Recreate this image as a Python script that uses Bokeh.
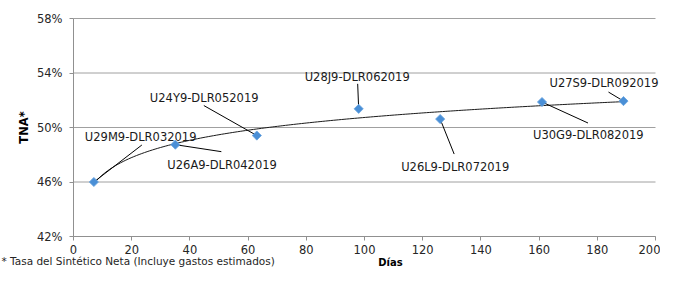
import numpy as np
from bokeh.plotting import figure
from bokeh.models import (ColumnDataSource, FixedTicker, PrintfTickFormatter,
                          Range1d, Label)
from bokeh.core.properties import value
from bokeh.embed import file_html
from bokeh.resources import INLINE

# ---- data ----
names = ["U29M9-DLR032019", "U26A9-DLR042019", "U24Y9-DLR052019",
         "U28J9-DLR062019", "U26L9-DLR072019", "U30G9-DLR082019",
         "U27S9-DLR092019"]
dias = [7, 35, 63, 98, 126, 161, 189]
tna = [46.0, 48.74, 49.41, 51.37, 50.62, 51.87, 51.94]
x_ticks = [0, 20, 40, 60, 80, 100, 120, 140, 160, 180, 200]
y_ticks = [42, 46, 50, 54, 58]
footnote = "* Tasa del Sintético Neta (Incluye gastos estimados)"

# ---- layout / style ----
FONT = "DejaVu Sans"
W, H = 660, 268
PX0, PX1 = 73, 655      # pixel columns of the first / last x tick
PY1, PY0 = 18, 236      # pixel rows of the top / bottom y tick
xa, xb = x_ticks[0], x_ticks[-1]
ya, yb = y_ticks[0], y_ticks[-1]
sx = (PX1 - PX0) / (xb - xa)
sy = (PY0 - PY1) / (yb - ya)
x_range = Range1d(xa - PX0 / sx, xb + (W - PX1) / sx)
y_range = Range1d(ya - (H - PY0) / sy, yb + PY1 / sy)

# label offsets in pixels relative to the point (screen: +x right, +y down)
lab_dx = [-9, -8, -107, -54, -39, -9, -74]
lab_dy = [-45, 20, -38, -32, 48, 33, -18]
lead_dx = [48, 46, -53, -1, 14, 46, -15]
lead_dy = [-37, 7, -30, -25, 35, 21, -9]

p = figure(width=W, height=H, output_backend="svg", toolbar_location=None,
           x_range=x_range, y_range=y_range,
           min_border_left=0, min_border_right=0, min_border_top=0,
           min_border_bottom=0)
p.outline_line_color = None
p.background_fill_color = "white"
p.border_fill_color = "white"
p.grid.visible = False

# horizontal gridlines at the y ticks, spanning the x tick extent
p.segment(x0=[xa] * len(y_ticks), x1=[xb] * len(y_ticks), y0=y_ticks,
          y1=y_ticks, line_color="#a0a0a0", line_width=1)

# axes placed at fixed data locations
p.xaxis.fixed_location = ya
p.yaxis.fixed_location = xa
p.xaxis.bounds = (xa, xb)
p.yaxis.bounds = (ya, yb)
for ax in (p.xaxis[0], p.yaxis[0]):
    ax.axis_line_color = "#909090"
    ax.major_tick_line_color = "#909090"
    ax.major_tick_out = 4
    ax.major_tick_in = 0
    ax.minor_tick_line_color = None
    ax.major_label_text_font = FONT
    ax.major_label_text_font_size = "11.5px"
    ax.major_label_text_color = "#262626"
p.xaxis.ticker = FixedTicker(ticks=x_ticks)
p.xaxis.major_label_standoff = 4
p.yaxis.ticker = FixedTicker(ticks=y_ticks)
p.yaxis.formatter = PrintfTickFormatter(format="%d%%")
p.yaxis.major_label_standoff = 7
p.yaxis.axis_label = "TNA*"
p.yaxis.axis_label_text_font = FONT
p.yaxis.axis_label_text_font_style = "bold"
p.yaxis.axis_label_text_font_size = "11.5px"
p.yaxis.axis_label_text_color = "#000000"
p.yaxis.axis_label_standoff = 3

# logarithmic trend line fitted to the data
xs = np.array(dias, dtype=float)
ys = np.array(tna, dtype=float)
a, b = np.polyfit(np.log(xs), ys, 1)
tx = np.linspace(xs.min(), xs.max(), 200)
p.line(tx, a * np.log(tx) + b, line_color="#1a1a1a", line_width=1)

# leader lines
src = ColumnDataSource(dict(
    x=dias, y=tna, name=names,
    lx=[d + dx / sx for d, dx in zip(dias, lead_dx)],
    ly=[v - dy / sy for v, dy in zip(tna, lead_dy)],
    tx=[d + dx / sx for d, dx in zip(dias, lab_dx)],
    ty=[v - dy / sy for v, dy in zip(tna, lab_dy)],
))
p.segment(x0="x", y0="y", x1="lx", y1="ly", source=src,
          line_color="#000000", line_width=1)

# markers
p.scatter(x="x", y="y", source=src, marker="square", angle=np.pi / 4,
          size=6.5, fill_color="#4a8fd6", line_color="#6aa5e0", line_width=0.8)

# labels
p.text(x="tx", y="ty", text="name", source=src, text_font=value(FONT),
       text_font_size="11.5px", text_color="#1a1a1a", text_align="left",
       text_baseline="middle")

# axis title & footnote (screen units, frame = whole canvas)
p.add_layout(Label(x=390, y=1, x_units="screen", y_units="screen",
                   text="Días", text_font=FONT, text_font_style="bold",
                   text_font_size="10px", text_align="center",
                   text_baseline="bottom", text_color="#000000"))
p.add_layout(Label(x=1, y=2, x_units="screen", y_units="screen",
                   text=footnote, text_font=FONT, text_font_size="10.5px",
                   text_align="left", text_baseline="bottom",
                   text_color="#262626"))

open("out.html", "w").write(file_html(p, INLINE))
